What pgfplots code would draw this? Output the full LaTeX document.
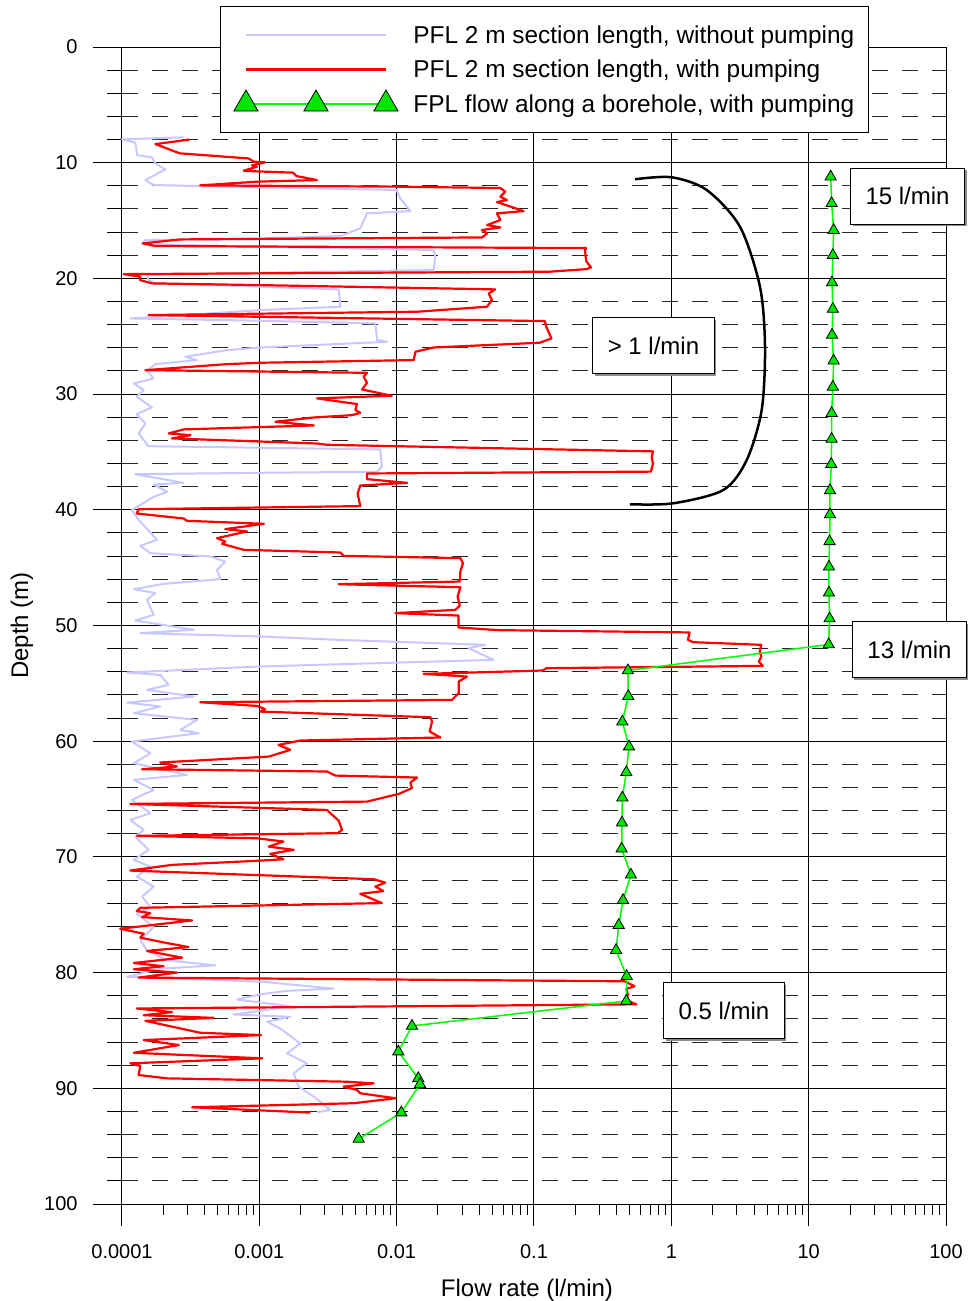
\documentclass[border=0pt]{standalone}
\usepackage{fontspec}
\setmainfont{Liberation Sans}
\usepackage{pgfplots}
\pgfplotsset{compat=1.18}
\usetikzlibrary{shadows}
\definecolor{pfllav}{RGB}{200,200,255}
\definecolor{pflred}{RGB}{255,0,0}
\definecolor{fplgreen}{RGB}{0,255,0}
\definecolor{fplfill}{RGB}{0,230,0}
\tikzset{annobox/.style={draw=black, line width=1pt, fill=white, inner xsep=15pt, minimum height=56pt,
  font=\fontsize{24}{29}\selectfont,
  drop shadow={shadow xshift=2pt, shadow yshift=-2pt, fill=black!45, opacity=1}}}
\pgfplotsset{
  leglineimg/.style={legend image code/.code={\path[draw=none,fill=none] (-13pt,-16pt) rectangle (153pt,16pt); \draw[##1] (0pt,0pt) -- (140pt,0pt);}},
  legmarkimg/.style={legend image code/.code={\path[draw=none,fill=none] (-13pt,-16pt) rectangle (153pt,16pt); \draw[fplgreen, line width=1.5pt] (0pt,0pt) -- (140pt,0pt); \draw[##1, mark size=14pt] plot coordinates {(0pt,0pt) (70pt,0pt) (140pt,0pt)};}},
}
\begin{document}
\begin{tikzpicture}
\useasboundingbox (-122pt,-97pt) rectangle (849pt,1204pt);
\begin{axis}[
  scale only axis, width=824pt, height=1157pt,
  xmode=log, xmin=1e-4, xmax=100, ymin=0, ymax=100, y dir=reverse,
  clip=false,
  axis line style={draw=none},
  xtick={1e-4,1e-3,1e-2,1e-1,1,10,100}, xticklabels={,,,,,,},
  xminorticks=false,
  ytick={0,10,...,100}, yticklabels={0,10,20,30,40,50,60,70,80,90,100},
  minor y tick num=4,
  tick align=outside, tick pos=left,
  major tick length=29pt, minor tick length=15pt,
  xtick style={draw=none},
  ytick style={draw=black, line width=1pt},
  xmajorgrids, ymajorgrids, yminorgrids,
  major grid style={draw=black, line width=1pt},
  minor grid style={draw=black!85, line width=1pt, dash pattern=on 16pt off 14pt},
  yticklabel style={font=\fontsize{20}{24}\selectfont, xshift=-12pt},
  ylabel={Depth (m)},
  ylabel style={at={(axis description cs:-0.1215,0.5)}, anchor=center, font=\fontsize{24}{29}\selectfont},
  legend style={at={(axis description cs:0.1189,1.0354)}, anchor=north west,
    draw=black, line width=1pt, fill=white, font=\fontsize{24.4}{29}\selectfont,
    inner xsep=12.5pt, inner ysep=12.5pt, row sep=2.5pt, column sep=12.5pt, cells={anchor=west}},
  legend cell align=left,
]
\addplot[pfllav, line width=2pt, line join=round, leglineimg]
table {
2.81e-4 7.81
1.0e-4 7.98
1.25e-4 8.27
1.29e-4 9.34
1.65e-4 9.54
1.75e-4 10.06
2.07e-4 10.58
1.48e-4 11.5
1.7e-4 11.93
3.72e-4 12.02
0.01 12.36
0.0106 13.08
0.0126 14.18
6.08e-3 14.38
5.43e-3 15.68
3.89e-3 16.34
1.02e-3 16.54
1.48e-4 16.69
1.4e-4 17.03
1.02e-3 17.26
0.0186 17.55
0.0191 18.13
0.0186 19.28
1.02e-3 19.51
1.52e-4 19.71
1.56e-4 20.14
1.75e-4 20.43
1.02e-3 20.72
3.79e-3 20.95
3.89e-3 22.45
1.02e-3 22.74
1.15e-4 23.46
1.02e-3 23.66
7.0e-3 23.89
7.2e-3 25.33
8.5e-3 25.48
1.02e-3 25.97
5.8e-4 26.2
2.89e-4 26.77
3.52e-4 27.06
1.75e-4 27.41
1.52e-4 27.98
1.7e-4 28.65
1.22e-4 29.08
1.44e-4 29.65
1.28e-4 30.23
1.65e-4 31.15
1.28e-4 31.73
1.48e-4 32.54
1.32e-4 33.4
1.56e-4 34.5
7.6e-3 34.78
7.8e-3 36.28
7.2e-3 36.71
1.02e-3 36.8
1.25e-4 36.92
2.81e-4 37.67
1.7e-4 37.81
2.13e-4 38.44
1.7e-4 38.88
1.18e-4 40.03
1.32e-4 40.86
1.8e-4 42.59
1.36e-4 43.11
1.61e-4 43.75
4.4e-4 44.03
5.65e-4 44.47
4.92e-4 45.19
5.2e-4 45.99
2.01e-4 46.4
1.22e-4 46.86
1.75e-4 47.2
1.52e-4 47.78
1.7e-4 49.08
1.25e-4 49.57
3.33e-4 50.37
1.36e-4 50.66
1.02e-3 50.95
3.79e-3 51.24
0.0443 51.67
0.0334 51.96
0.0508 52.97
1.02e-3 53.54
1.09e-4 54.06
1.9e-4 54.27
2.19e-4 55.13
1.52e-4 55.56
3.33e-4 56.14
1.09e-4 56.66
1.9e-4 57.0
1.22e-4 57.58
3.52e-4 58.16
2.66e-4 59.02
3.61e-4 59.31
1.18e-4 60.03
1.61e-4 61.04
1.22e-4 61.9
2.97e-4 62.91
1.22e-4 63.34
1.7e-4 64.21
1.18e-4 65.07
1.61e-4 66.22
1.15e-4 66.8
1.44e-4 67.67
1.25e-4 68.24
1.56e-4 69.39
1.22e-4 70.26
1.61e-4 70.84
1.28e-4 71.7
1.7e-4 72.56
1.4e-4 73.43
1.61e-4 74.34
1.28e-4 74.91
1.7e-4 76.06
1.36e-4 77.21
1.52e-4 78.07
2.13e-4 78.94
4.79e-4 79.37
1.9e-4 79.66
1.09e-4 80.37
1.08e-3 80.8
3.47e-3 81.38
1.59e-3 81.58
1.02e-3 81.87
6.87e-4 82.33
1.68e-3 82.9
1.02e-3 83.3
6.5e-4 83.62
1.68e-3 83.82
1.14e-3 84.25
1.42e-3 84.83
1.99e-3 86.12
1.59e-3 86.98
2.22e-3 87.84
1.78e-3 88.71
1.93e-3 89.86
2.49e-3 90.72
3.29e-3 91.87
2.63e-3 92.07
};
\addlegendentry{PFL 2 m section length, without pumping}
\addplot[pflred, line width=2.2pt, line join=round, leglineimg]
table {
3.1e-4 8.0
1.75e-4 8.39
2.63e-4 9.19
8.35e-4 9.63
9.1e-4 9.91
1.1e-3 9.97
8.85e-4 10.23
9.6e-4 10.35
7.7e-4 10.69
9.6e-4 10.75
1.76e-3 10.86
1.86e-3 11.15
2.63e-3 11.5
9.6e-4 11.64
3.7e-4 11.96
0.01 12.07
0.0569 12.19
0.0618 12.5
0.0569 12.94
0.0635 13.23
0.0537 13.4
0.0841 14.18
0.0537 14.38
0.0569 14.96
0.0455 15.39
0.0569 15.59
0.0418 15.82
0.0455 16.11
0.0418 16.46
2.66e-4 16.63
1.42e-4 16.97
1.75e-4 17.2
0.24 17.38
0.235 17.6
0.24 18.5
0.26 19.05
0.24 19.2
0.13 19.42
1.03e-4 19.63
1.36e-4 19.86
1.35e-4 20.14
1.65e-4 20.43
1.02e-3 20.58
0.0522 20.95
0.0468 21.3
0.0494 21.87
0.0455 22.45
0.0141 22.88
1.56e-4 23.17
0.12 23.69
0.123 24.18
0.134 25.19
0.11 25.56
0.0186 25.97
0.0137 26.34
0.0133 27.06
1.02e-3 27.29
5.8e-4 27.41
1.48e-4 27.93
6.08e-3 28.16
5.75e-3 28.5
6.08e-3 29.02
5.6e-3 29.6
9.2e-3 30.14
2.63e-3 30.37
5.14e-3 30.86
5.0e-3 31.38
5.43e-3 31.61
4.73e-3 31.82
2.49e-3 32.02
1.31e-3 32.39
2.49e-3 32.71
2.81e-4 33.05
2.19e-4 33.4
3.16e-4 33.55
2.31e-4 33.83
2.63e-3 34.27
3.11e-3 34.38
0.735 34.95
0.72 35.5
0.735 36.0
0.71 36.7
6.08e-3 36.86
6.08e-3 37.35
0.0119 37.67
5.43e-3 37.9
5.2e-3 38.59
5.43e-3 39.68
1.32e-4 39.95
1.28e-4 40.32
2.81e-4 40.75
2.97e-4 40.95
1.08e-3 41.21
5.65e-4 41.67
8.13e-4 41.87
4.92e-4 42.45
5.65e-4 42.74
5.35e-4 42.94
7.7e-4 43.46
3.89e-3 43.69
4.11e-3 43.98
0.0291 44.18
0.0304 44.61
0.0291 45.33
0.0288 46.2
3.78e-3 46.43
0.0291 46.69
0.0278 47.49
0.0288 48.3
0.0267 48.65
9.77e-3 48.93
0.0282 49.14
0.0282 50.17
0.0547 50.4
1.36 50.6
1.32 51.24
1.44 51.44
4.52 51.67
4.4 52.25
4.52 52.68
4.34 53.12
4.64 53.49
0.123 53.69
0.116 53.89
0.0157 54.18
0.0325 54.41
0.0283 54.84
0.0283 55.85
0.0253 56.43
3.71e-4 56.63
9.6e-4 56.95
1.1e-3 57.23
1.02e-3 57.44
0.0176 57.93
0.0181 58.3
0.0174 59.16
0.0208 59.68
1.99e-3 59.94
1.38e-3 60.32
1.68e-3 60.75
1.17e-3 61.33
1.9e-4 61.84
2.51e-4 62.19
1.4e-4 62.42
3.11e-3 62.62
3.57e-3 62.97
0.0141 63.14
0.0126 63.57
0.0129 64.06
0.0104 64.55
6.08e-3 65.22
1.15e-4 65.42
3.11e-3 65.94
3.29e-3 66.22
3.78e-3 66.86
4.0e-3 67.67
3.72e-3 67.95
1.29e-4 68.18
9.6e-4 68.39
1.5e-3 68.67
1.17e-3 69.11
1.78e-3 69.39
1.2e-3 69.74
1.5e-3 70.2
1.02e-3 70.32
2.31e-4 70.69
1.15e-4 71.18
6.8e-3 71.93
8.26e-3 72.22
7.0e-3 72.56
8.0e-3 72.95
5.43e-3 73.19
7.8e-3 73.99
1.36e-4 74.4
1.28e-4 74.68
1.61e-4 74.86
1.4e-4 75.2
3.24e-4 75.49
9.7e-5 76.21
1.44e-4 76.64
1.36e-4 76.98
2.01e-4 77.39
3.05e-4 77.79
1.52e-4 78.13
2.74e-4 78.71
1.22e-4 79.17
2.01e-4 79.45
1.22e-4 79.71
2.51e-4 80.0
1.32e-4 80.43
0.457 80.75
0.54 81.18
0.47 81.41
0.483 81.96
0.457 82.33
0.556 82.74
1.28e-4 83.1
2.31e-4 83.42
1.44e-4 83.68
4.64e-4 83.91
1.48e-4 84.17
3.72e-4 85.2
1.03e-3 85.4
1.44e-4 85.83
2.59e-4 86.26
1.22e-4 86.93
1.05e-3 87.41
1.15e-4 87.84
1.36e-4 88.07
1.32e-4 88.85
2.13e-4 89.14
4.35e-3 89.43
6.8e-3 89.57
4.11e-3 89.86
5.14e-3 90.14
5.43e-3 90.43
9.8e-3 90.86
4.86e-3 91.29
3.24e-4 91.64
2.35e-3 92.1
};
\addlegendentry{PFL 2 m section length, with pumping}
\addplot[fplgreen, line width=1.5pt, mark=triangle*, mark size=6.5pt,
  mark options={fill=fplfill, draw=black, line width=0.8pt}, legmarkimg]
table {
14.47 11.21
14.7 13.51
15.2 15.83
15.0 18.0
14.8 20.36
15.0 22.65
14.8 24.89
15.2 27.12
15.0 29.38
14.7 31.65
14.7 33.88
14.6 36.06
14.3 38.32
14.3 40.41
14.2 42.73
14.06 44.93
14.06 47.17
14.2 49.40
14.0 51.64
0.483 53.89
0.486 56.11
0.44 58.31
0.492 60.47
0.47 62.69
0.44 64.88
0.437 67.05
0.435 69.30
0.508 71.55
0.445 73.74
0.414 75.90
0.396 78.06
0.473 80.31
0.47 82.45
0.01293 84.61
0.01028 86.83
0.01438 89.14
0.01479 89.65
0.01081 92.10
0.00529 94.38
};
\addlegendentry{FPL flow along a borehole, with pumping}
\addplot[black, line width=2.5pt, smooth, forget plot] coordinates {
(0.544,11.43) (1.006,11.26) (1.81,12.36) (3.16,15.53) (4.42,20.72) (4.81,25.9)
(4.55,31.37) (3.54,35.7) (2.39,38.29) (1.03,39.44) (0.5,39.52)};
\node[annobox] at (axis cs:52.5,12.88) {15 l/min};
\node[annobox] at (axis cs:54.2,52.1) {13 l/min};
\node[annobox] at (axis cs:0.741,25.84) {> 1 l/min};
\node[annobox] at (axis cs:2.418,83.3) {0.5 l/min};
\end{axis}
\begin{axis}[
  scale only axis, width=824pt, height=1157pt,
  xmode=log, xmin=1e-4, xmax=100, ymin=0, ymax=100,
  axis line style={draw=none},
  ytick=\empty,
  xtick={1e-4,1e-3,1e-2,1e-1,1,10,100},
  xticklabels={0.0001,0.001,0.01,0.1,1,10,100},
  minor xtick={2e-4,3e-4,4e-4,5e-4,6e-4,7e-4,8e-4,9e-4,
    2e-3,3e-3,4e-3,5e-3,6e-3,7e-3,8e-3,9e-3,
    0.02,0.03,0.04,0.05,0.06,0.07,0.08,0.09,
    0.2,0.3,0.4,0.5,0.6,0.7,0.8,0.9,
    2,3,4,5,6,7,8,9,20,30,40,50,60,70,80,90},
  tick align=outside, tick pos=left,
  major tick length=22pt, minor tick length=11pt,
  tick style={draw=black, line width=1pt},
  xticklabel style={font=\fontsize{20}{24}\selectfont, yshift=-15pt},
  xlabel={Flow rate (l/min)},
  xlabel style={at={(axis description cs:0.4915,-0.0743)}, anchor=center, font=\fontsize{24}{29}\selectfont},
]
\addplot[draw=none, forget plot] coordinates {(1,50)};
\end{axis}
\end{tikzpicture}
\end{document}
